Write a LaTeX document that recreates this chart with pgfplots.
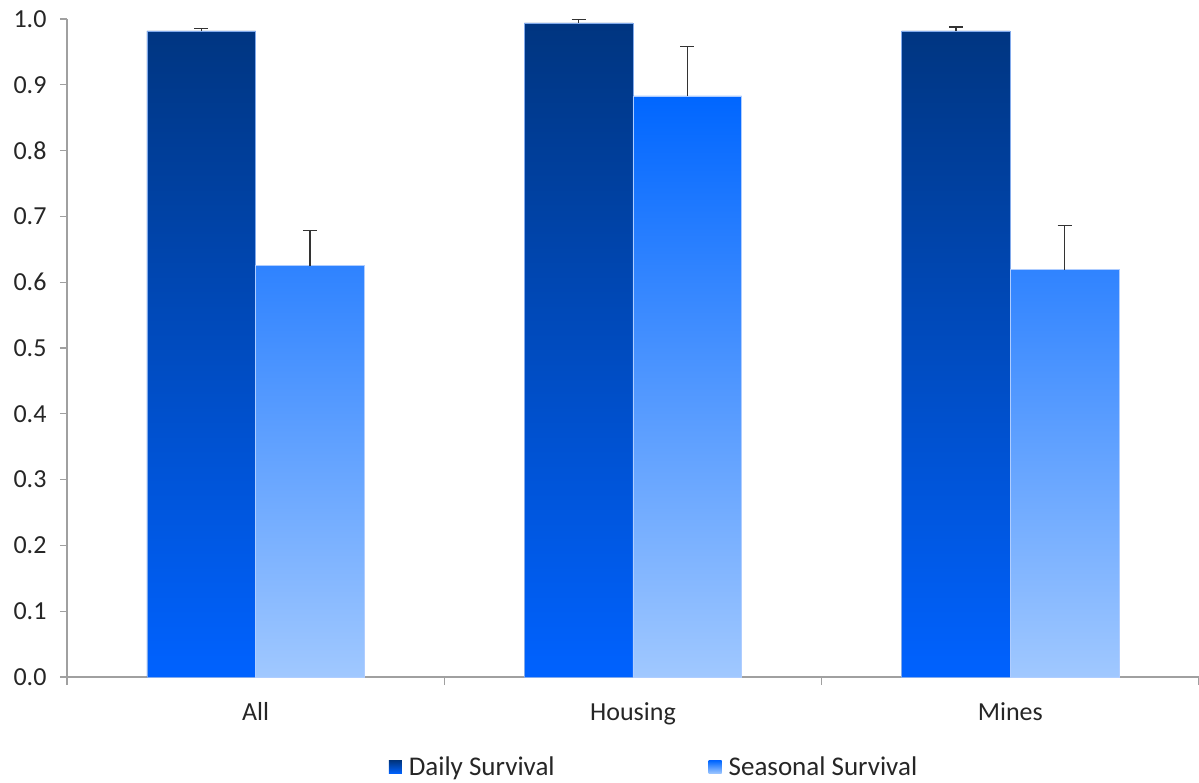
\documentclass[border=0pt]{standalone}
\usepackage{pgfplots}
\pgfplotsset{compat=1.18}
\usepackage{fontspec}
\setmainfont{Carlito}
\definecolor{dtop}{RGB}{0,53,128}
\definecolor{dbot}{RGB}{0,98,255}
\definecolor{stop}{RGB}{0,102,255}
\definecolor{sbot}{RGB}{160,200,255}
\definecolor{axgray}{RGB}{160,160,160}
\begin{document}
\begin{tikzpicture}
\useasboundingbox (-67pt,-105pt) rectangle (1132pt,677pt);
\begin{axis}[
  scale only axis,
  width=1132pt, height=658pt,
  xmin=-0.5, xmax=2.5, ymin=0, ymax=1,
  axis x line*=bottom, axis y line*=left,
  axis line style={axgray, line width=1.2pt, -},
  xtick={0,1,2}, xticklabels={All,Housing,Mines},
  minor xtick={-0.5,0.5,1.5,2.5},
  major x tick style={draw=none},
  minor x tick style={axgray, line width=1.2pt},
  minor tick length=8pt,
  ytick={0,0.1,...,1.0},
  y tick style={axgray, line width=1.2pt},
  major tick length=7pt,
  tick align=outside,
  yticklabel style={/pgf/number format/fixed, /pgf/number format/fixed zerofill, /pgf/number format/precision=1, xshift=-10pt},
  /pgf/number format/assume math mode=true,
  tick label style={font=\fontsize{26}{30}\selectfont, text=black!85},
  xticklabel style={yshift=-15pt},
  legend columns=2,
  legend style={draw=none, at={(0.5186,-0.137)}, anchor=center,
    font=\fontsize{27}{32}\selectfont, text=black!85,
    /tikz/every odd column/.append style={column sep=5pt},
    /tikz/every even column/.append style={column sep=152pt},
    inner sep=0pt},
  legend image code/.code={\path[#1, draw=none] (0pt,-6.5pt) rectangle (13pt,6.5pt);},
]
\addplot[ybar, bar width=0.288, bar shift=0,
  top color=dtop, bottom color=dbot, draw={rgb,255:red,130;green,170;blue,235}, line width=0.6pt,
  error bars/.cd, y dir=plus, y explicit,
  error bar style={draw=black!80, line width=1.3pt},
  error mark options={draw=black!80, line width=1.3pt, mark size=7pt, rotate=90}]
  table[x=x, y=y, y error=e] {
x y e
-0.144 0.982 0.004
0.856 0.994 0.005
1.856 0.982 0.006
};
\addlegendentry{Daily Survival}
\addplot[ybar, bar width=0.288, bar shift=0,
  top color=stop, bottom color=sbot, draw={rgb,255:red,175;green,205;blue,255}, line width=0.6pt,
  error bars/.cd, y dir=plus, y explicit,
  error bar style={draw=black!80, line width=1.3pt},
  error mark options={draw=black!80, line width=1.3pt, mark size=7pt, rotate=90}]
  table[x=x, y=y, y error=e] {
x y e
0.144 0.625 0.054
1.144 0.883 0.075
2.144 0.619 0.067
};
\addlegendentry{Seasonal Survival}
\end{axis}
\end{tikzpicture}
\end{document}
